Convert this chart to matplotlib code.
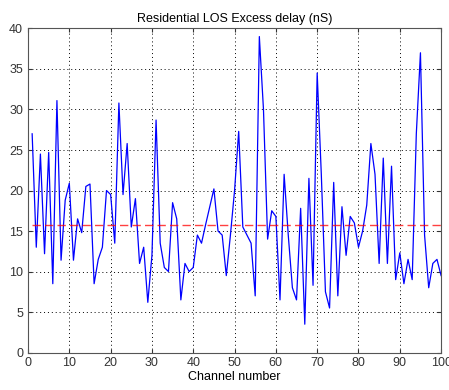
import numpy as np
import matplotlib
matplotlib.use("Agg")
import matplotlib.pyplot as plt

# excess delay per channel (nS)
channels = np.arange(1, 101)
delay = [
    27.0, 13.0, 24.5, 12.2, 24.7, 8.5, 31.1, 11.4, 18.8, 20.9,
    11.4, 16.5, 14.8, 20.5, 20.8, 8.5, 11.5, 13.0, 20.0, 19.5,
    13.5, 30.8, 19.5, 25.8, 15.5, 19.0, 11.0, 13.0, 6.2, 12.0,
    28.7, 13.5, 10.5, 10.0, 18.5, 16.5, 6.5, 11.0, 10.0, 10.5,
    14.5, 13.5, 15.8, 18.0, 20.2, 15.0, 14.5, 9.5, 14.5, 20.0,
    27.3, 15.5, 14.5, 13.5, 7.0, 39.0, 30.0, 14.0, 17.5, 16.8,
    6.5, 22.0, 14.5, 8.0, 6.5, 17.8, 3.5, 21.5, 8.3, 34.5,
    22.0, 7.5, 5.5, 21.0, 7.0, 18.0, 12.0, 16.8, 16.0, 13.0,
    15.0, 18.2, 25.8, 22.0, 11.0, 24.0, 11.0, 23.0, 9.0, 12.3,
    8.5, 11.5, 9.0, 27.0, 37.0, 14.5, 8.0, 11.0, 11.5, 9.5,
]
mean_delay = 15.8

plt.rcParams["font.family"] = ["Liberation Sans", "DejaVu Sans"]

fig = plt.figure(figsize=(4.49, 3.90), dpi=100)
ax = fig.add_axes([0.0624, 0.096, 0.92, 0.831])

ax.plot(channels, delay, color="#0000ff", lw=0.9)
ax.plot([channels[0], channels[-1]], [mean_delay, mean_delay],
        color="#ff0000", lw=1.0, ls=(0, (6, 3)), alpha=0.75)

ax.set_xlim(0, 100)
ax.set_ylim(0, 40)
ax.set_xticks(np.arange(0, 101, 10))
ax.set_yticks(np.arange(0, 41, 5))
ax.grid(True, color="black", ls=(0, (1, 3)), lw=0.7)
ax.tick_params(direction="in", labelsize=9, length=3, colors="#333333",
               top=True, right=True)
for sp in ax.spines.values():
    sp.set_color("#555555")

ax.set_title("Residential LOS Excess delay (nS)", fontsize=9, pad=5)
ax.set_xlabel("Channel number", fontsize=9, labelpad=1)

fig.savefig("out.png", dpi=100)
